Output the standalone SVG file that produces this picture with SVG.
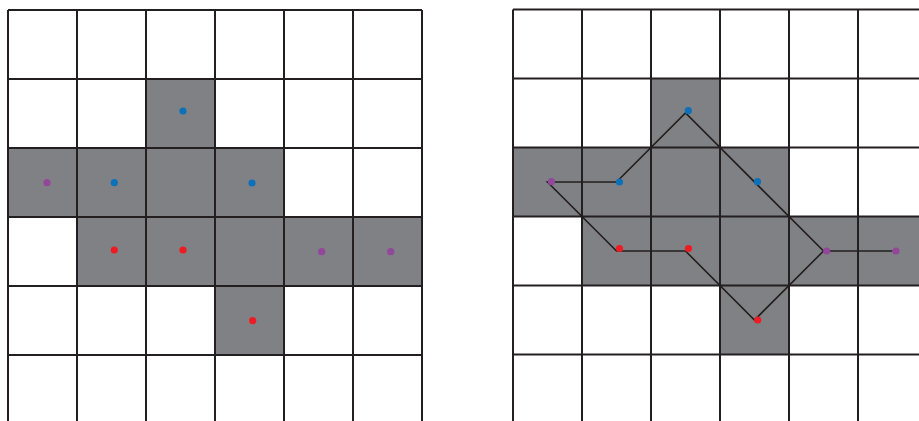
<svg xmlns="http://www.w3.org/2000/svg" width="919" height="421" viewBox="0 0 919 421">
<style>
.cell{fill:#808184;stroke:none}
.grid{stroke:#231f20;stroke-width:2;fill:none}
.conn{stroke:#231f20;stroke-width:1.6;fill:none;stroke-linejoin:miter}
.blue{fill:#0b72ba}
.red{fill:#ed1c24}
.purple{fill:#92479b}
</style>
<rect width="919" height="421" fill="#ffffff"/>
<g id="left-grid">
<g id="left-cells">
<rect class="cell" x="146" y="79" width="69" height="69"/>
<rect class="cell" x="8" y="148" width="276" height="69"/>
<rect class="cell" x="77" y="217" width="345" height="69"/>
<rect class="cell" x="215" y="286" width="69" height="69"/>
</g>
<path class="grid" d="M8,10V421M77,10V421M146,10V421M215,10V421M284,10V421M353,10V421M422,10V421M8,10H422M8,79H422M8,148H422M8,217H422M8,286H422M8,355H422"/>
</g>
<g id="right-grid">
<g id="right-cells">
<rect class="cell" x="651" y="78.5" width="69" height="69"/>
<rect class="cell" x="513" y="147.5" width="276" height="69"/>
<rect class="cell" x="582" y="216.5" width="337" height="69"/>
<rect class="cell" x="720" y="285.5" width="69" height="69"/>
</g>
<path class="grid" d="M513,9.5V421M582,9.5V421M651,9.5V421M720,9.5V421M789,9.5V421M858,9.5V421M513,9.5H919M513,78.5H919M513,147.5H919M513,216.5H919M513,285.5H919M513,354.5H919"/>
</g>
<g id="connectors">
<polygon class="conn" points="547.5,182 616.5,182 685.5,113 823.5,251 754.5,320 685.5,251 616.5,251"/>
<line class="conn" x1="823.5" y1="251" x2="892.5" y2="251"/>
</g>
<g id="left-dots">
<circle id="L-b1" class="blue" cx="183" cy="111" r="3.6"/>
<circle id="L-p1" class="purple" cx="47" cy="182.7" r="3.6"/>
<circle id="L-b2" class="blue" cx="114.3" cy="182.7" r="3.6"/>
<circle id="L-b3" class="blue" cx="252" cy="183" r="3.6"/>
<circle id="L-r1" class="red" cx="114.3" cy="250" r="3.6"/>
<circle id="L-r2" class="red" cx="183" cy="250" r="3.6"/>
<circle id="L-p2" class="purple" cx="321.7" cy="251.7" r="3.6"/>
<circle id="L-p3" class="purple" cx="390.7" cy="251.7" r="3.6"/>
<circle id="L-r3" class="red" cx="252.7" cy="320.7" r="3.6"/>
</g>
<g id="right-dots">
<circle id="R-b1" class="blue" cx="688.3" cy="110.7" r="3.6"/>
<circle id="R-p1" class="purple" cx="551.5" cy="181.7" r="3.6"/>
<circle id="R-b2" class="blue" cx="619.5" cy="182" r="3.6"/>
<circle id="R-b3" class="blue" cx="757.5" cy="181.7" r="3.6"/>
<circle id="R-r1" class="red" cx="619.5" cy="248.5" r="3.6"/>
<circle id="R-r2" class="red" cx="688.5" cy="248.5" r="3.6"/>
<circle id="R-p2" class="purple" cx="826.7" cy="251" r="3.6"/>
<circle id="R-p3" class="purple" cx="896" cy="251" r="3.6"/>
<circle id="R-r3" class="red" cx="757.7" cy="320" r="3.6"/>
</g>
</svg>
